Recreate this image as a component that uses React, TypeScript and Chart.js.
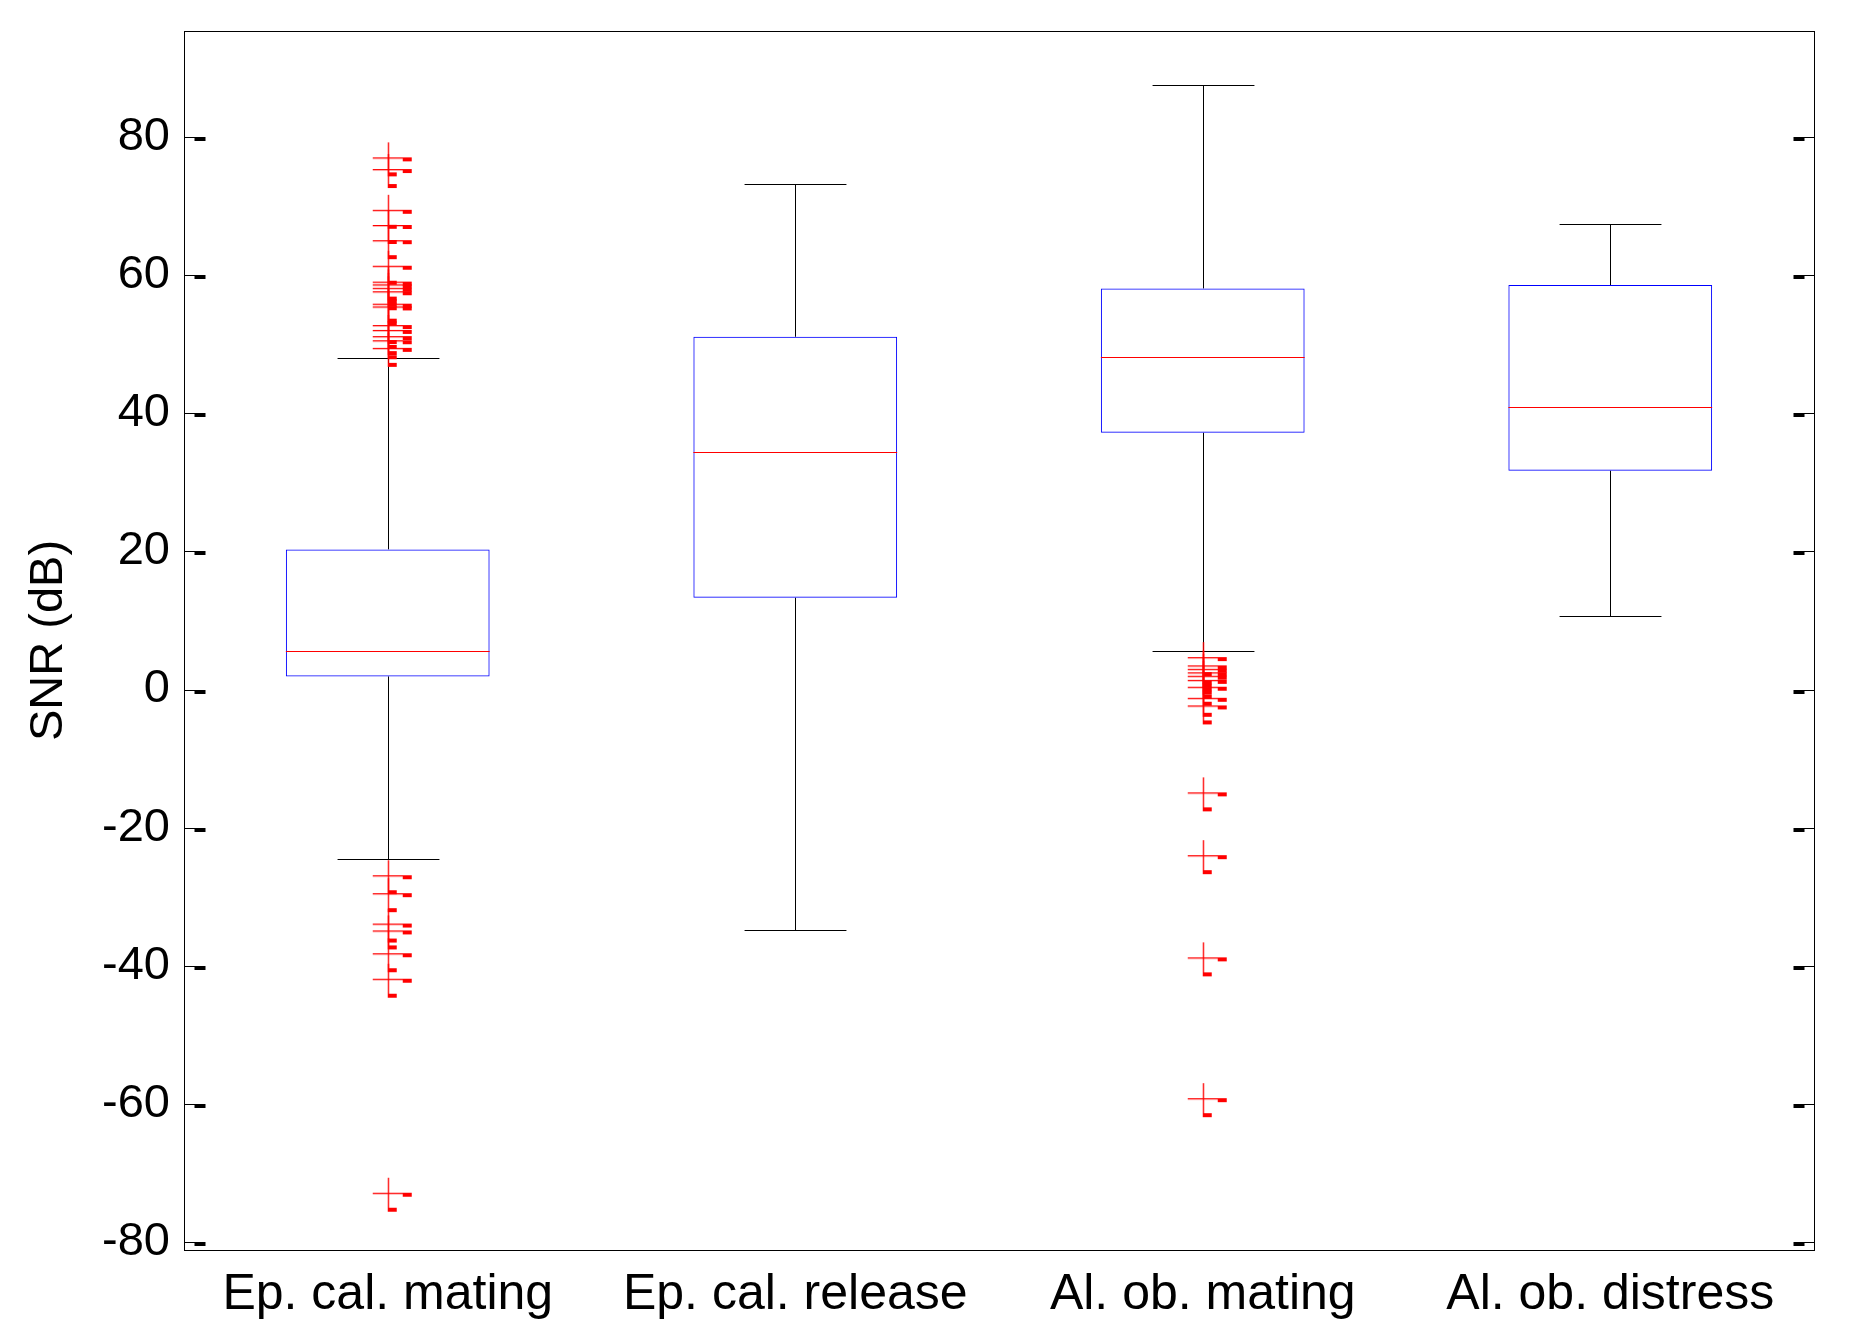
import React, { useEffect, useRef } from 'react';
import { Chart, registerables } from 'chart.js';

Chart.register(...registerables);

// ---- data ----
const categories = ['Ep. cal. mating', 'Ep. cal. release', 'Al. ob. mating', 'Al. ob. distress'];
const lowerWhisker = [-24.6, -34.9, 5.6, 10.6];
const q1 = [1.9, 13.3, 37.2, 31.7];
const median = [5.6, 34.4, 48.1, 40.9];
const q3 = [20.3, 51.1, 58.1, 58.6];
const upperWhisker = [48.0, 73.3, 87.6, 67.5];
const outliersEpMating = [
  77.1, 75.4, 69.5, 67.3, 65.1, 61.4, 59.1, 58.7, 58.2, 57.7, 55.9, 55.5, 52.8, 52.1, 51.2, 50.6, 49.5,
  -26.9, -29.5, -33.9, -34.9, -38.2, -41.9, -72.9,
];
const outliersEpRelease: number[] = [];
const outliersAlMating = [4.7, 3.5, 3.0, 2.5, 2.0, 1.4, 0.4, -1.2, -2.3, -14.9, -24.0, -38.8, -59.2];
const outliersAlDistress: number[] = [];
const yTicks = [-80, -60, -40, -20, 0, 20, 40, 60, 80];
const yMin = -81.2;
const yMax = 95.4;
const yTitle = 'SNR (dB)';

const FONT = "'Liberation Sans', Arial, Helvetica, sans-serif";

function makeCross(): HTMLCanvasElement {
  const s = 56;
  const c = 28;
  const cv = document.createElement('canvas');
  cv.width = s;
  cv.height = s;
  const g = cv.getContext('2d') as CanvasRenderingContext2D;
  g.fillStyle = '#ff0000';
  g.fillRect(c - 15, c, 30, 1.3);
  g.fillRect(c, c - 15, 1.3, 30);
  g.fillRect(c + 15, c, 9, 4);
  g.fillRect(c, c + 15, 9, 4);
  return cv;
}

const boxPlugin = {
  id: 'boxParts',
  beforeDatasetsDraw(chart: any) {
    const ctx = chart.ctx;
    const x = chart.scales.x;
    const y = chart.scales.y;
    const cat = x.getPixelForValue(1) - x.getPixelForValue(0);
    const capHalf = cat * 0.125;
    ctx.save();
    ctx.strokeStyle = '#000000';
    ctx.lineWidth = 1;
    for (let i = 0; i < categories.length; i++) {
      const cx = Math.round(x.getPixelForValue(i)) + 0.5;
      const yUp = Math.round(y.getPixelForValue(upperWhisker[i])) + 0.5;
      const yQ3 = y.getPixelForValue(q3[i]);
      const yQ1 = y.getPixelForValue(q1[i]);
      const yLo = Math.round(y.getPixelForValue(lowerWhisker[i])) + 0.5;
      ctx.beginPath();
      ctx.moveTo(cx, yUp);
      ctx.lineTo(cx, yQ3);
      ctx.moveTo(cx, yQ1);
      ctx.lineTo(cx, yLo);
      ctx.moveTo(cx - capHalf, yUp);
      ctx.lineTo(cx + capHalf, yUp);
      ctx.moveTo(cx - capHalf, yLo);
      ctx.lineTo(cx + capHalf, yLo);
      ctx.stroke();
    }
    ctx.restore();
  },
  afterDatasetDraw(chart: any, args: any) {
    if (args.index !== 0) return;
    const ctx = chart.ctx;
    const y = chart.scales.y;
    const meta = chart.getDatasetMeta(0);
    ctx.save();
    ctx.strokeStyle = '#ff0000';
    ctx.lineWidth = 1;
    meta.data.forEach((el: any, i: number) => {
      const my = Math.round(y.getPixelForValue(median[i])) + 0.5;
      ctx.beginPath();
      ctx.moveTo(el.x - el.width / 2, my);
      ctx.lineTo(el.x + el.width / 2, my);
      ctx.stroke();
    });
    ctx.restore();
  },
  afterDraw(chart: any) {
    const ctx = chart.ctx;
    const { left, right, top, bottom } = chart.chartArea;
    const y = chart.scales.y;
    ctx.save();
    ctx.strokeStyle = '#000000';
    ctx.fillStyle = '#000000';
    ctx.lineWidth = 1;
    const l = Math.round(left) + 0.5;
    const r = Math.round(right) + 0.5;
    const t = Math.round(top) + 0.5;
    const b = Math.round(bottom) + 0.5;
    ctx.strokeRect(l, t, r - l, b - t);
    yTicks.forEach((v) => {
      const py = Math.round(y.getPixelForValue(v)) + 0.5;
      ctx.beginPath();
      ctx.moveTo(l, py);
      ctx.lineTo(l + 11, py);
      ctx.moveTo(r, py);
      ctx.lineTo(r - 11, py);
      ctx.stroke();
      ctx.fillRect(l + 10, py - 0.5, 11, 4);
      ctx.fillRect(r - 21, py - 0.5, 11, 4);
    });
    ctx.restore();
  },
};

export default function App() {
  const ref = useRef<HTMLCanvasElement | null>(null);
  useEffect(() => {
    document.body.style.margin = '0';
    const canvas = ref.current;
    if (!canvas) return;
    const cross = makeCross();
    const outlierGroups = [outliersEpMating, outliersEpRelease, outliersAlMating, outliersAlDistress];
    const outlierPoints: { x: string; y: number }[] = [];
    outlierGroups.forEach((g, i) => g.forEach((v) => outlierPoints.push({ x: categories[i], y: v })));

    const chart = new Chart(canvas, {
      type: 'bar',
      data: {
        labels: categories,
        datasets: [
          {
            type: 'bar',
            label: 'box',
            data: categories.map((_, i) => [q1[i], q3[i]]) as any,
            backgroundColor: 'rgba(0,0,0,0)',
            borderColor: '#0000ff',
            borderWidth: 1,
            borderSkipped: false,
            categoryPercentage: 1,
            barPercentage: 0.5,
            order: 1,
          } as any,
          {
            type: 'line',
            label: 'outliers',
            data: outlierPoints as any,
            showLine: false,
            pointStyle: cross as any,
            pointRadius: 15,
            borderColor: '#ff0000',
            backgroundColor: '#ff0000',
            order: 0,
            clip: false as any,
          } as any,
        ],
      },
      options: {
        animation: false,
        responsive: false,
        devicePixelRatio: 1,
        events: [],
        layout: { padding: { top: 31, right: 37, left: 0, bottom: 0 } },
        plugins: { legend: { display: false }, tooltip: { enabled: false } },
        scales: {
          x: {
            type: 'category',
            offset: true,
            grid: { display: false, drawTicks: false },
            border: { display: false },
            ticks: { color: '#000000', font: { family: FONT, size: 50 }, padding: 15, maxRotation: 0, autoSkip: false },
            afterFit: (s: any) => {
              s.height = 86;
              s.paddingLeft = 0;
              s.paddingRight = 0;
            },
          },
          y: {
            type: 'linear',
            min: yMin,
            max: yMax,
            grid: { display: false, drawTicks: false },
            border: { display: false },
            afterBuildTicks: (s: any) => {
              s.ticks = yTicks.map((v) => ({ value: v }));
            },
            ticks: { color: '#000000', font: { family: FONT, size: 47 }, padding: 14, autoSkip: false },
            title: {
              display: true,
              text: yTitle,
              color: '#000000',
              font: { family: FONT, size: 47 },
              padding: { top: 21, bottom: 0 },
            },
            afterFit: (s: any) => {
              s.width = 184;
              s.paddingTop = 0;
              s.paddingBottom = 0;
            },
          },
        },
      },
      plugins: [boxPlugin],
    });
    return () => chart.destroy();
  }, []);

  return (
    <div style={{ position: 'absolute', left: 0, top: 0, width: 1851, height: 1336, background: '#ffffff' }}>
      <canvas ref={ref} width={1851} height={1336} style={{ width: 1851, height: 1336, display: 'block' }} />
    </div>
  );
}
